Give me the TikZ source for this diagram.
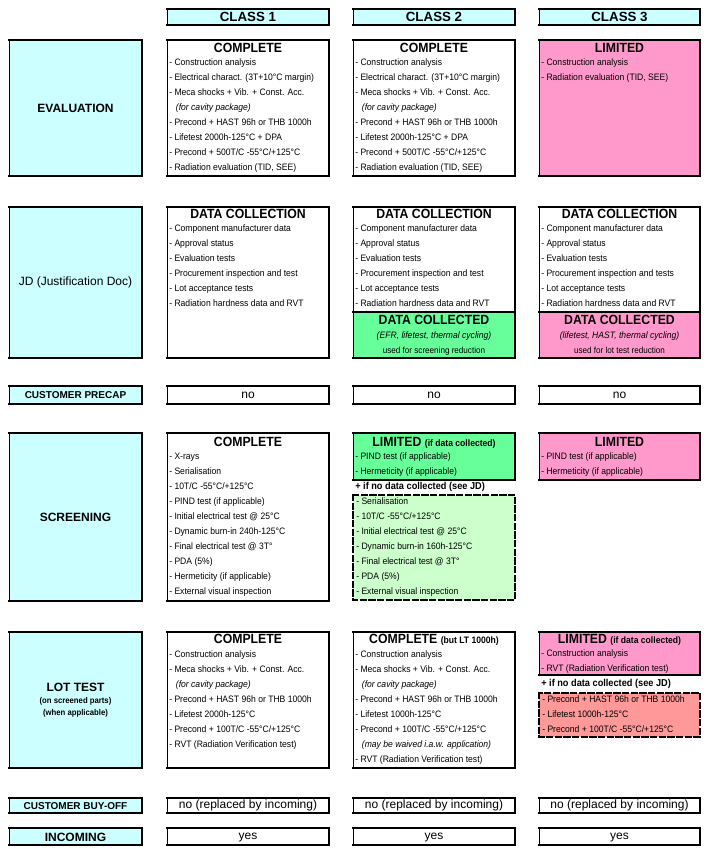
\documentclass[tikz,border=0pt]{standalone}
\usepackage{fontspec}
\setmainfont{Liberation Sans}
\newfontfamily\cond{Liberation Sans}[FakeStretch=0.92]
\usepackage{tikz}
\usetikzlibrary{positioning}
\definecolor{hdcyan}{RGB}{204,255,255}
\definecolor{dpink}{RGB}{255,153,204}
\definecolor{dgreen}{RGB}{102,255,153}
\definecolor{lgreen}{RGB}{204,255,204}
\definecolor{salmon}{RGB}{255,153,153}
\tikzset{
  thinb/.style={line width=0.6pt},
  thickb/.style={line width=1.5pt},
  dashb/.style={line width=1.5pt,dash pattern=on 4pt off 2.5pt},
  lab/.style={inner sep=0pt,font=\bfseries\fontsize{9}{11}\selectfont},
  labsmall/.style={inner sep=0pt,font=\bfseries\fontsize{7.5}{9}\selectfont},
  subhead/.style={inner sep=0pt,font=\cond\bfseries\fontsize{6.3}{7}\selectfont},
  clshead/.style={inner sep=0pt,font=\bfseries\fontsize{10}{12}\selectfont},
  head/.style={inner sep=0pt,text height=7.3pt,text depth=0pt,font=\cond\bfseries\fontsize{10}{12}\selectfont},
  item/.style={anchor=west,inner sep=0pt,text height=5.2pt,text depth=1.4pt,font=\cond\fontsize{7}{8}\selectfont},
  note/.style={anchor=west,inner sep=0pt,text height=5.6pt,text depth=1.5pt,font=\cond\bfseries\fontsize{7.5}{9}\selectfont},
  answer/.style={inner sep=0pt,text height=6.6pt,text depth=1.9pt,font=\fontsize{9}{11}\selectfont}
}
\begin{document}
\begin{tikzpicture}[line cap=rect,line join=miter,x=0.75pt,y=-0.75pt]
  \useasboundingbox (0,0) rectangle (706,849);
  % cells: colour / left / top / right / bottom
  \foreach \c/\xa/\ya/\xb/\yb in {
    hdcyan/167/9/329/25, hdcyan/353/9/515/25, hdcyan/539/9/700/25,
    hdcyan/9/40/142/176, white/167/40/329/176, white/353/40/515/176, dpink/539/40/700/176,
    hdcyan/9/207/142/358, white/167/207/329/358,
    white/353/207/515/312, dgreen/353/312/515/358, white/539/207/700/312, dpink/539/312/700/358,
    hdcyan/9/386/142/404, white/167/386/329/404, white/353/386/515/404, white/539/386/700/404,
    hdcyan/9/433/142/601, white/167/433/329/601, dgreen/353/433/515/480, dpink/539/433/700/480,
    hdcyan/9/632/142/768, white/167/632/329/768, white/353/632/515/768, dpink/539/632/700/675,
    hdcyan/9/798/142/813, white/167/798/329/813, white/353/798/515/813, white/539/798/700/813,
    hdcyan/9/828/142/845, white/167/828/329/845, white/353/828/515/845, white/539/828/700/845}
  {
    \fill[\c] (\xa,\ya) rectangle (\xb,\yb);
    \draw[thinb] (\xa,\ya) rectangle (\xb,\yb);
    \draw[thickb] (\xa,\ya) -- (\xb,\ya) -- (\xb,\yb) -- (\xa,\yb);
  }
  % dashed "if no data collected" cells
  \fill[lgreen] (353,495) rectangle (515,600);
  \draw[dashb] (353,495) rectangle (515,600);
  \fill[salmon] (539,693) rectangle (700,737);
  \draw[dashb] (539,693) rectangle (700,737);

  % column and row titles
  \foreach \xc/\cn in {248/1,434/2,619.5/3}
    \node[clshead] (cls\cn) at (\xc,17) {CLASS \cn};
  \node[lab] (eval) at (75.5,108) {EVALUATION};
  \node[lab,font=\fontsize{9}{11}\selectfont] (jd) at (75.5,282) {JD (Justification Doc)};
  \node[labsmall] (precap) at (75.5,395) {CUSTOMER PRECAP};
  \node[lab] (screen) at (75.5,517) {SCREENING};
  \node[lab] (lot) at (75.5,687) {LOT TEST};
  \node[subhead,below=4pt of lot] (lotsub) {(on screened parts)};
  \node[subhead,below=3pt of lotsub] (lotsub2) {(when applicable)};
  \node[labsmall] (buyoff) at (75.5,806) {CUSTOMER BUY-OFF};
  \node[lab] (incoming) at (75.5,837) {INCOMING};

  % evaluation
  \node[head] (ev1h) at (248,48) {COMPLETE};
  \node[head] (ev2h) at (434,48) {COMPLETE};
  \node[head] (ev3h) at (619.5,48) {LIMITED};
  \foreach \xs/\cn in {169/1,355/2}
    \foreach \t [count=\i] in {{- Construction analysis}, {- Electrical charact. (3T+10°C margin)},
        {- Meca shocks + Vib. + Const. Acc.}, {\hspace{5pt}\textit{(for cavity package)}},
        {- Precond + HAST 96h or THB 1000h}, {- Lifetest 2000h-125°C + DPA},
        {- Precond + 500T/C -55°C/+125°C}, {- Radiation evaluation (TID, SEE)}}
      \node[item] (ev\cn-\i) at (\xs,{47.5+15*\i}) {\t};
  \foreach \t [count=\i] in {{- Construction analysis}, {- Radiation evaluation (TID, SEE)}}
    \node[item] (ev3-\i) at (541,{47.5+15*\i}) {\t};

  % justification doc
  \foreach \xs/\xc/\cn/\lst in {169/248/1/test,355/434/2/test,541/619.5/3/tests}
  {
    \node[head] (jd\cn h) at (\xc,214) {DATA COLLECTION};
    \foreach \t [count=\i] in {{- Component manufacturer data}, {- Approval status},
        {- Evaluation tests}, {- Procurement inspection and \lst}, {- Lot acceptance tests},
        {- Radiation hardness data and RVT}}
      \node[item] (jd\cn-\i) at (\xs,{214+15*\i}) {\t};
  }
  \foreach \xc/\cn/\what/\use in {434/2/{EFR, lifetest, thermal cycling}/screening reduction,
      619.5/3/{lifetest, HAST, thermal cycling}/lot test reduction}
  {
    \node[head,text height=7pt] (dc\cn h) at (\xc,320) {DATA COLLECTED};
    \node[item,anchor=center] (dc\cn a) at (\xc,336) {\textit{(\what)}};
    \node[item,anchor=center,font=\cond\fontsize{6.6}{8}\selectfont] (dc\cn b) at (\xc,350.5) {used for \use};
  }

  % yes / no rows
  \foreach \xc/\cn in {248/1,434/2,619.5/3}
  {
    \node[answer] (pc\cn) at (\xc,395) {no};
    \node[answer] (bo\cn) at (\xc,805.5) {no (replaced by incoming)};
    \node[answer] (in\cn) at (\xc,836.5) {yes};
  }

  % screening
  \node[head] (sc1h) at (248,442) {COMPLETE};
  \foreach \t [count=\i] in {{- X-rays}, {- Serialisation}, {- 10T/C -55°C/+125°C},
      {- PIND test (if applicable)}, {- Initial electrical test @ 25°C},
      {- Dynamic burn-in 240h-125°C}, {- Final electrical test @ 3T°}, {- PDA (5\%)},
      {- Hermeticity (if applicable)}, {- External visual inspection}}
    \node[item] (sc1-\i) at (169,{442+15*\i}) {\t};
  \node[head] (sc2h) at (434,442) {LIMITED {\fontsize{7}{8}\selectfont(if data collected)}};
  \node[head] (sc3h) at (619.5,442) {LIMITED};
  \foreach \xs/\cn in {355/2,541/3}
    \foreach \t [count=\i] in {{- PIND test (if applicable)}, {- Hermeticity (if applicable)}}
      \node[item] (sc\cn-\i) at (\xs,{442+15*\i}) {\t};
  \node[note] (sc2n) at (355,487) {+ if no data collected (see JD)};
  \foreach \t [count=\i] in {{- Serialisation}, {- 10T/C -55°C/+125°C},
      {- Initial electrical test @ 25°C}, {- Dynamic burn-in 160h-125°C},
      {- Final electrical test @ 3T°}, {- PDA (5\%)}, {- External visual inspection}}
    \node[item] (sc2d-\i) at (356,{486.5+15*\i}) {\t};

  % lot test
  \node[head] (lt1h) at (248,639) {COMPLETE};
  \foreach \t [count=\i] in {{- Construction analysis}, {- Meca shocks + Vib. + Const. Acc.},
      {\hspace{5pt}\textit{(for cavity package)}}, {- Precond + HAST 96h or THB 1000h},
      {- Lifetest 2000h-125°C}, {- Precond + 100T/C -55°C/+125°C},
      {- RVT (Radiation Verification test)}}
    \node[item] (lt1-\i) at (169,{639.5+15*\i}) {\t};
  \node[head] (lt2h) at (434,639) {COMPLETE {\fontsize{7}{8}\selectfont(but LT 1000h)}};
  \foreach \t [count=\i] in {{- Construction analysis}, {- Meca shocks + Vib. + Const. Acc.},
      {\hspace{5pt}\textit{(for cavity package)}}, {- Precond + HAST 96h or THB 1000h},
      {- Lifetest 1000h-125°C}, {- Precond + 100T/C -55°C/+125°C},
      {\hspace{5pt}\textit{(may be waived i.a.w. application)}},
      {- RVT (Radiation Verification test)}}
    \node[item] (lt2-\i) at (355,{639.5+15*\i}) {\t};
  \node[head] (lt3h) at (619.5,639) {LIMITED {\fontsize{7}{8}\selectfont(if data collected)}};
  \foreach \t [count=\i] in {{- Construction analysis}, {- RVT (Radiation Verification test)}}
    \node[item] (lt3-\i) at (541,{638.5+15*\i}) {\t};
  \node[note] (lt3n) at (541,684) {+ if no data collected (see JD)};
  \foreach \t [count=\i] in {{- Precond + HAST 96h or THB 1000h}, {- Lifetest 1000h-125°C},
      {- Precond + 100T/C -55°C/+125°C}}
    \node[item] (lt3d-\i) at (542,{685+15*\i}) {\t};
\end{tikzpicture}
\end{document}
